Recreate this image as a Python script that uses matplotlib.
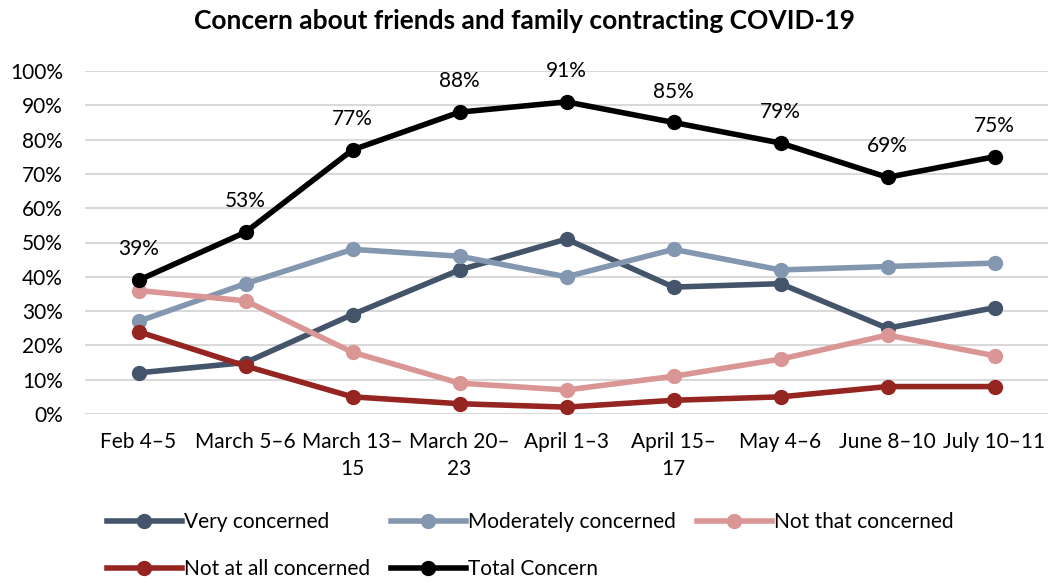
import matplotlib.pyplot as plt
from matplotlib.ticker import FuncFormatter

dates = ['Feb 4–5', 'March 5–6', 'March 13–\n15', 'March 20–\n23', 'April 1–3',
         'April 15–\n17', 'May 4–6', 'June 8–10', 'July 10–11']
very = [12, 15, 29, 42, 51, 37, 38, 25, 31]
moderately = [27, 38, 48, 46, 40, 48, 42, 43, 44]
not_that = [36, 33, 18, 9, 7, 11, 16, 23, 17]
not_at_all = [24, 14, 5, 3, 2, 4, 5, 8, 8]
total = [39, 53, 77, 88, 91, 85, 79, 69, 75]

series = [
    ('Very concerned', very, '#44546A'),
    ('Moderately concerned', moderately, '#8497B0'),
    ('Not that concerned', not_that, '#DA9694'),
    ('Not at all concerned', not_at_all, '#952520'),
    ('Total Concern', total, '#000000'),
]

plt.rcParams['font.family'] = ['Lato', 'DejaVu Sans']

W, H = 1048, 583
fig = plt.figure(figsize=(W / 100, H / 100), dpi=100)
ax = fig.add_axes([85 / W, 1 - 414 / H, 1 - 85 / W, (414 - 71) / H])

x = list(range(len(dates)))
lines = []
for name, vals, col in series:
    ln, = ax.plot(x, vals, '-o', color=col, lw=4, ms=10, label=name)
    lines.append(ln)

for xi, v in zip(x, total):
    ax.annotate(f'{v}%', (xi, v), xytext=(0, 15), textcoords='offset points',
                ha='center', va='bottom', fontsize=15)

ax.set_xlim(-0.5, len(dates) - 0.5)
ax.set_ylim(0, 100)
ax.set_yticks(range(0, 101, 10))
ax.yaxis.set_major_formatter(FuncFormatter(lambda v, p: f'{int(v)}%'))
ax.set_xticks(x)
ax.set_xticklabels(dates, fontsize=15, linespacing=1.45)
ax.tick_params(axis='y', labelsize=15, length=0, pad=16)
ax.tick_params(axis='x', length=0, pad=13)
ax.grid(axis='y', color='#D9D9D9', lw=1.5)
ax.set_axisbelow(True)
for s in ax.spines.values():
    s.set_visible(False)

fig.suptitle('Concern about friends and family contracting COVID-19',
             fontsize=19, fontweight='bold', y=1 - 21 / H, va='center')

# row-major order like the original legend
order = [0, 3, 1, 4, 2]
fig.legend([lines[i] for i in order], [series[i][0] for i in order],
           loc='lower left', bbox_to_anchor=(88 / W, -0.026), ncol=3, frameon=False,
           fontsize=15, handlelength=3.6, handletextpad=0.1, columnspacing=1.0,
           labelspacing=1.3)

fig.savefig('out.png', dpi=100)
